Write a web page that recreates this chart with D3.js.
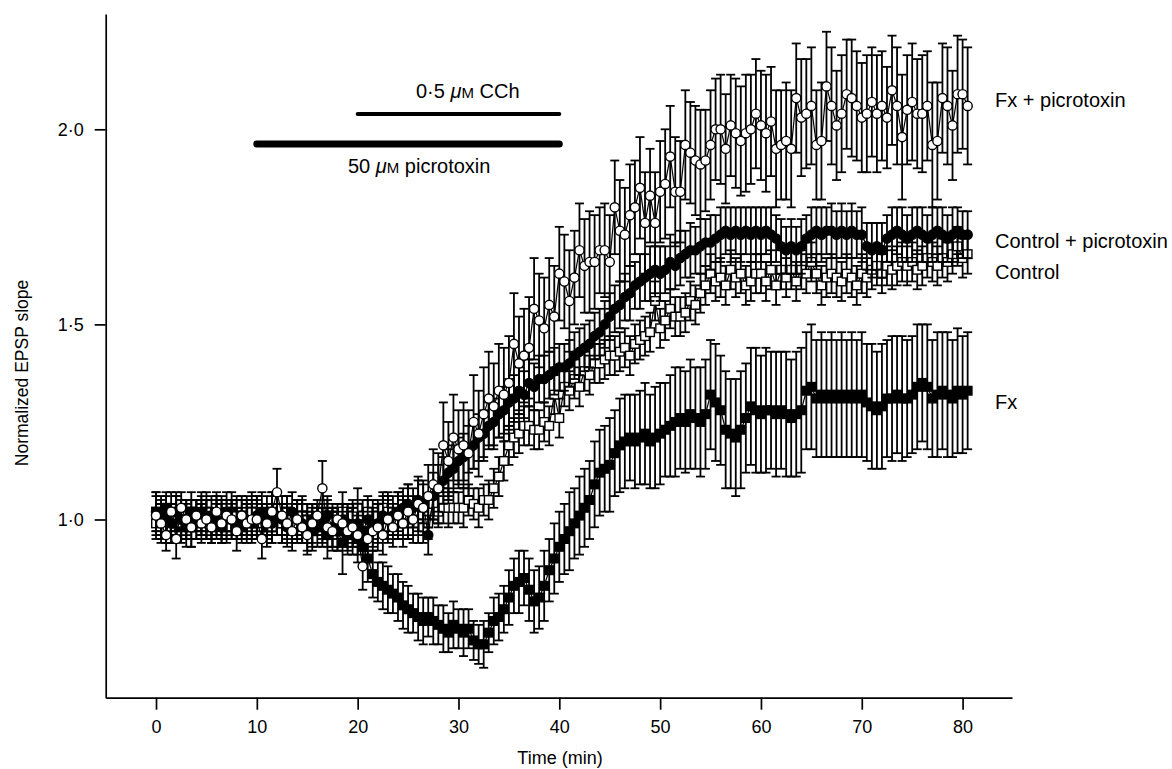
<!DOCTYPE html>
<meta charset="utf-8">
<script src="https://cdn.jsdelivr.net/npm/d3@7"></script>
<style>
  body { margin: 0; background: #fff; }
  text { font-family: "Liberation Sans", Arial, Helvetica, sans-serif; fill: #000; }
</style>
<div id="chart"></div>
<script>

// sampling times (min)
var times = [
  0,0.5,1,1.5,2,2.5,3,3.5,4,4.5,
  5,5.5,6,6.5,7,7.5,8,8.5,9,9.5,
  10,10.5,11,11.5,12,12.5,13,13.5,14,14.5,
  15,15.5,16,16.5,17,17.5,18,18.5,19,19.5,
  20,20.5,21,21.5,22,22.5,23,23.5,24,24.5,
  25,25.5,26,26.5,27,27.5,28,28.5,29,29.5,
  30,30.5,31,31.5,32,32.5,33,33.5,34,34.5,
  35,35.5,36,36.5,37,37.5,38,38.5,39,39.5,
  40,40.5,41,41.5,42,42.5,43,43.5,44,44.5,
  45,45.5,46,46.5,47,47.5,48,48.5,49,49.5,
  50,50.5,51,51.5,52,52.5,53,53.5,54,54.5,
  55,55.5,56,56.5,57,57.5,58,58.5,59,59.5,
  60,60.5,61,61.5,62,62.5,63,63.5,64,64.5,
  65,65.5,66,66.5,67,67.5,68,68.5,69,69.5,
  70,70.5,71,71.5,72,72.5,73,73.5,74,74.5,
  75,75.5,76,76.5,77,77.5,78,78.5,79,79.5,
  80,80.5
];

// Fx (filled squares)
var fx = [
  1.02,1.00,1.03,0.99,1.01,0.98,1.00,1.02,0.99,1.01,
  1.00,0.98,1.01,1.00,0.99,1.02,1.00,0.98,1.01,0.99,
  1.01,1.00,0.98,1.02,1.00,0.99,1.01,0.98,1.00,1.01,
  0.99,0.97,1.00,0.98,0.96,0.98,0.97,0.94,0.96,0.97,
  0.95,0.93,0.90,0.86,0.84,0.83,0.82,0.81,0.80,0.78,
  0.77,0.76,0.75,0.74,0.75,0.74,0.73,0.72,0.71,0.73,
  0.72,0.71,0.72,0.69,0.68,0.68,0.71,0.74,0.75,0.77,
  0.80,0.83,0.84,0.85,0.82,0.79,0.80,0.83,0.87,0.90,
  0.93,0.95,0.97,0.99,1.01,1.03,1.05,1.09,1.12,1.13,
  1.14,1.17,1.19,1.20,1.21,1.20,1.21,1.22,1.20,1.21,
  1.22,1.23,1.24,1.25,1.26,1.25,1.27,1.26,1.25,1.27,
  1.32,1.30,1.28,1.23,1.22,1.21,1.23,1.26,1.29,1.28,
  1.27,1.28,1.28,1.27,1.28,1.27,1.26,1.27,1.28,1.33,
  1.34,1.31,1.32,1.31,1.32,1.31,1.32,1.31,1.32,1.31,
  1.32,1.30,1.29,1.28,1.29,1.31,1.31,1.32,1.31,1.31,
  1.32,1.34,1.35,1.34,1.31,1.32,1.33,1.32,1.31,1.33,
  1.32,1.33
];
var fxErr = [
  .05,.05,.04,.05,.05,.04,.05,.05,.04,.05,
  .05,.04,.05,.05,.04,.05,.05,.04,.05,.05,
  .05,.04,.05,.05,.04,.05,.05,.04,.05,.05,
  .05,.05,.04,.05,.06,.05,.05,.08,.05,.06,
  .06,.05,.06,.06,.05,.06,.06,.05,.06,.06,
  .06,.05,.06,.06,.05,.06,.05,.06,.05,.06,
  .05,.06,.05,.05,.05,.06,.05,.06,.06,.06,
  .07,.07,.08,.07,.08,.08,.08,.09,.08,.09,
  .09,.09,.10,.09,.10,.10,.10,.11,.11,.11,
  .12,.11,.12,.12,.11,.12,.12,.13,.12,.13,
  .13,.12,.13,.14,.13,.13,.14,.13,.14,.14,
  .14,.15,.14,.15,.14,.15,.15,.14,.15,.16,
  .15,.16,.15,.16,.15,.16,.15,.16,.16,.15,
  .16,.15,.16,.15,.16,.15,.16,.15,.16,.15,
  .16,.15,.16,.15,.16,.15,.16,.15,.16,.15,
  .15,.16,.15,.16,.15,.16,.15,.16,.15,.16,
  .15,.15
];

// Control (open squares)
var control = [
  0.99,1.01,0.98,1.00,1.02,0.99,1.00,0.98,1.01,1.00,
  1.02,0.99,1.00,1.01,0.98,1.00,1.01,0.99,1.00,1.02,
  0.99,1.00,1.01,0.98,1.00,0.99,1.02,1.00,0.99,1.01,
  1.00,0.98,1.00,0.99,1.01,1.00,0.99,1.02,1.00,1.01,
  1.03,1.01,1.02,1.00,1.01,1.03,1.02,1.00,0.99,1.01,
  0.99,1.00,0.99,0.98,0.99,1.04,1.02,1.03,1.03,1.03,
  1.03,1.03,1.05,1.04,1.03,1.05,1.05,1.08,1.11,1.15,
  1.19,1.21,1.22,1.24,1.24,1.23,1.23,1.25,1.24,1.32,
  1.26,1.34,1.33,1.36,1.34,1.38,1.37,1.40,1.40,1.41,
  1.42,1.42,1.43,1.44,1.42,1.45,1.46,1.47,1.48,1.56,
  1.49,1.51,1.54,1.52,1.52,1.53,1.56,1.55,1.58,1.60,
  1.63,1.61,1.62,1.60,1.64,1.62,1.63,1.60,1.61,1.63,
  1.63,1.61,1.64,1.60,1.64,1.62,1.64,1.61,1.64,1.63,
  1.66,1.63,1.60,1.62,1.63,1.62,1.61,1.63,1.62,1.60,
  1.63,1.62,1.64,1.65,1.63,1.65,1.64,1.65,1.66,1.65,
  1.66,1.64,1.65,1.67,1.66,1.65,1.67,1.66,1.68,1.70,
  1.67,1.68
];
var controlErr = [
  .04,.05,.04,.04,.05,.04,.04,.05,.04,.04,
  .05,.04,.04,.05,.04,.04,.05,.04,.04,.05,
  .04,.04,.05,.04,.04,.05,.04,.04,.05,.04,
  .04,.05,.04,.04,.05,.04,.04,.05,.04,.04,
  .05,.04,.04,.05,.04,.04,.05,.04,.04,.05,
  .04,.04,.05,.04,.04,.05,.04,.04,.05,.04,
  .04,.05,.04,.04,.05,.04,.05,.05,.05,.05,
  .05,.05,.05,.05,.05,.05,.05,.05,.05,.05,
  .05,.05,.05,.05,.05,.05,.05,.05,.05,.05,
  .05,.05,.05,.05,.05,.05,.05,.05,.05,.05,
  .05,.05,.05,.05,.05,.05,.05,.05,.05,.05,
  .05,.05,.05,.05,.05,.05,.05,.05,.05,.05,
  .05,.05,.05,.05,.05,.05,.05,.05,.05,.05,
  .05,.05,.05,.05,.05,.05,.05,.05,.05,.05,
  .05,.05,.05,.05,.05,.05,.05,.05,.05,.05,
  .05,.05,.05,.05,.05,.05,.05,.05,.05,.05,
  .05,.05
];

// Control + picrotoxin (filled circles)
var ctlPicro = [
  1.02,1.00,1.01,0.99,1.02,1.00,0.98,1.01,1.00,1.02,
  0.99,1.01,1.00,0.98,1.02,1.00,0.99,1.01,1.00,0.99,
  1.01,1.02,1.00,0.99,1.01,1.00,0.98,1.02,1.00,0.99,
  0.97,1.00,0.98,0.99,1.01,0.98,0.97,1.00,0.99,0.98,
  0.99,0.97,1.00,0.98,0.99,1.01,1.00,1.01,1.02,1.03,
  1.04,1.03,1.05,1.04,0.96,1.06,1.08,1.10,1.12,1.13,
  1.15,1.16,1.18,1.19,1.21,1.22,1.24,1.25,1.27,1.28,
  1.30,1.31,1.33,1.32,1.35,1.34,1.36,1.36,1.37,1.38,
  1.39,1.39,1.40,1.42,1.43,1.44,1.45,1.47,1.48,1.50,
  1.52,1.54,1.55,1.57,1.58,1.60,1.61,1.62,1.63,1.64,
  1.63,1.64,1.66,1.65,1.67,1.68,1.69,1.69,1.70,1.71,
  1.71,1.72,1.73,1.74,1.73,1.74,1.73,1.74,1.73,1.74,
  1.73,1.74,1.73,1.72,1.70,1.69,1.70,1.69,1.70,1.72,
  1.73,1.74,1.73,1.74,1.74,1.73,1.74,1.73,1.74,1.73,
  1.73,1.70,1.69,1.70,1.69,1.72,1.73,1.74,1.73,1.72,
  1.73,1.74,1.73,1.72,1.73,1.74,1.73,1.72,1.73,1.74,
  1.73,1.73
];
var ctlPicroErr = [
  .05,.04,.05,.05,.04,.05,.05,.04,.05,.05,
  .04,.05,.05,.04,.05,.05,.04,.05,.05,.04,
  .05,.05,.04,.05,.05,.04,.05,.05,.04,.05,
  .05,.04,.05,.05,.04,.05,.05,.04,.05,.05,
  .05,.05,.05,.05,.05,.05,.05,.05,.05,.05,
  .05,.05,.05,.05,.05,.06,.06,.06,.06,.06,
  .06,.06,.06,.06,.06,.06,.06,.06,.06,.06,
  .06,.06,.06,.06,.06,.06,.06,.06,.06,.06,
  .06,.06,.06,.06,.06,.06,.06,.06,.06,.06,
  .06,.06,.06,.06,.07,.06,.07,.06,.07,.06,
  .07,.06,.07,.06,.07,.06,.07,.06,.07,.06,
  .07,.06,.07,.06,.07,.06,.07,.06,.07,.06,
  .07,.06,.07,.06,.07,.06,.07,.06,.07,.06,
  .07,.06,.07,.06,.07,.06,.07,.06,.07,.06,
  .07,.06,.07,.06,.07,.06,.07,.06,.07,.06,
  .07,.06,.07,.06,.07,.06,.07,.06,.07,.06,
  .06,.06
];

// Fx + picrotoxin (open circles)
var fxPicro = [
  1.01,0.99,0.96,1.02,0.95,1.03,1.00,0.98,1.01,0.99,
  1.00,0.98,1.02,0.99,1.01,1.00,0.97,1.01,0.99,1.00,
  1.00,0.95,0.99,1.02,1.07,1.01,0.99,0.97,1.00,0.98,
  0.96,0.99,1.01,1.08,0.98,0.97,1.00,0.99,0.97,0.98,
  0.96,0.88,0.95,0.97,0.98,0.96,1.00,0.98,1.01,0.99,
  1.02,1.00,1.04,1.03,1.06,1.09,1.08,1.19,1.15,1.21,
  1.18,1.19,1.17,1.25,1.22,1.27,1.31,1.29,1.33,1.32,
  1.35,1.45,1.40,1.42,1.44,1.54,1.51,1.49,1.55,1.52,
  1.63,1.61,1.56,1.62,1.69,1.65,1.66,1.66,1.69,1.69,
  1.66,1.80,1.74,1.73,1.78,1.80,1.85,1.76,1.83,1.76,
  1.84,1.86,1.93,1.84,1.84,1.96,1.94,1.92,1.91,1.92,
  1.96,2.00,2.00,1.95,2.01,1.99,1.97,1.99,2.00,2.04,
  2.01,1.99,2.02,1.95,1.96,1.97,1.95,2.08,2.03,2.04,
  2.06,1.96,1.97,2.11,2.06,2.01,2.04,2.09,2.08,2.06,
  2.03,2.04,2.07,2.04,2.06,2.03,2.10,2.06,1.98,2.05,
  2.07,2.04,2.04,2.06,1.96,1.97,2.08,2.06,2.01,2.09,
  2.09,2.06
];
var fxPicroErr = [
  .05,.05,.04,.05,.05,.04,.05,.05,.04,.05,
  .05,.04,.05,.05,.04,.05,.05,.04,.05,.05,
  .05,.05,.04,.05,.06,.05,.04,.05,.05,.04,
  .05,.05,.04,.07,.05,.05,.04,.05,.05,.05,
  .05,.06,.05,.05,.06,.05,.06,.05,.06,.06,
  .07,.06,.07,.07,.08,.09,.09,.11,.10,.11,
  .10,.11,.11,.12,.11,.12,.12,.11,.12,.12,
  .12,.13,.12,.12,.13,.13,.12,.13,.12,.13,
  .12,.12,.13,.12,.12,.12,.13,.12,.11,.12,
  .12,.12,.13,.12,.13,.12,.13,.13,.12,.13,
  .13,.14,.13,.14,.13,.14,.13,.14,.14,.13,
  .14,.13,.14,.14,.13,.14,.14,.15,.14,.14,
  .14,.15,.14,.15,.14,.15,.15,.14,.15,.14,
  .15,.14,.15,.14,.15,.14,.15,.14,.15,.14,
  .14,.15,.14,.15,.14,.13,.14,.15,.16,.14,
  .15,.14,.15,.14,.16,.15,.14,.15,.14,.15,
  .14,.15
];

var xTicks = [0, 10, 20, 30, 40, 50, 60, 70, 80];
var yTicks = [1.0, 1.5, 2.0];

// drug application periods (min)
var cchPeriod = [20, 40];
var picroPeriod = [10, 40];


var width = 1172, height = 769;

var svg = d3.select("#chart")
  .append("svg")
    .attr("width", width)
    .attr("height", height);

var x = d3.scaleLinear()
  .domain([-4.99, 84.9])
  .range([105.7, 1012]);

var y = d3.scaleLinear()
  .domain([0.5433, 2.2955])
  .range([697.7, 14]);

// axes
var gx = svg.append("g")
  .attr("transform", "translate(0,697.7)")
  .call(d3.axisBottom(x).tickValues(xTicks).tickSize(12).tickPadding(11).tickSizeOuter(0));

var gy = svg.append("g")
  .attr("transform", "translate(105.7,0)")
  .call(d3.axisLeft(y).tickValues(yTicks).tickSize(11).tickPadding(11).tickSizeOuter(0)
    .tickFormat(function(d) { return d.toFixed(1).replace(".", "\u00B7"); }));

[gx, gy].forEach(function(g) {
  g.attr("font-family", null).attr("font-size", 18);
  g.selectAll("path, line").attr("stroke", "#000").attr("stroke-width", 1.7);
});

svg.append("text")
  .attr("x", 560).attr("y", 764)
  .attr("text-anchor", "middle")
  .attr("font-size", 18)
  .text("Time (min)");

svg.append("text")
  .attr("transform", "translate(28,373) rotate(-90)")
  .attr("text-anchor", "middle")
  .attr("font-size", 17.5)
  .text("Normalized EPSP slope");

// drug bars
svg.append("line")
  .attr("x1", x(cchPeriod[0])).attr("x2", x(cchPeriod[1]))
  .attr("y1", 114).attr("y2", 114)
  .attr("stroke", "#000").attr("stroke-width", 4).attr("stroke-linecap", "round");

svg.append("line")
  .attr("x1", x(picroPeriod[0])).attr("x2", x(picroPeriod[1]))
  .attr("y1", 144).attr("y2", 144)
  .attr("stroke", "#000").attr("stroke-width", 7).attr("stroke-linecap", "round");

function drugLabel(px, py, before, after) {
  var t = svg.append("text").attr("x", px).attr("y", py).attr("font-size", 20);
  t.append("tspan").text(before);
  t.append("tspan").attr("font-style", "italic").text("\u03BC");
  t.append("tspan").attr("font-size", 15).text("M");
  t.append("tspan").text(after);
}
drugLabel(416, 98, "0\u00B75 ", " CCh");
drugLabel(348, 173, "50 ", " picrotoxin");

// data series
var series = [
  {name: "Fx", values: fx, err: fxErr, shape: "square", fill: "#000", labelAt: 1.282},
  {name: "Control", values: control, err: controlErr, shape: "square", fill: "#fff", labelAt: 1.617},
  {name: "Control + picrotoxin", values: ctlPicro, err: ctlPicroErr, shape: "circle", fill: "#000", labelAt: 1.696},
  {name: "Fx + picrotoxin", values: fxPicro, err: fxPicroErr, shape: "circle", fill: "#fff", labelAt: 2.057}
];

var line = d3.line()
  .x(function(d) { return x(d.t); })
  .y(function(d) { return y(d.v); });

series.forEach(function(s) {
  var pts = times.map(function(t, i) { return {t: t, v: s.values[i], e: s.err[i]}; });
  var g = svg.append("g");

  var eb = g.selectAll(".eb").data(pts).enter().append("g")
    .attr("stroke", "#000").attr("stroke-width", 1.8);
  eb.append("line")
    .attr("x1", function(d) { return x(d.t); })
    .attr("x2", function(d) { return x(d.t); })
    .attr("y1", function(d) { return y(d.v - d.e); })
    .attr("y2", function(d) { return y(d.v + d.e); });
  eb.append("line")
    .attr("x1", function(d) { return x(d.t) - 4.5; })
    .attr("x2", function(d) { return x(d.t) + 4.5; })
    .attr("y1", function(d) { return y(d.v + d.e); })
    .attr("y2", function(d) { return y(d.v + d.e); });
  eb.append("line")
    .attr("x1", function(d) { return x(d.t) - 4.5; })
    .attr("x2", function(d) { return x(d.t) + 4.5; })
    .attr("y1", function(d) { return y(d.v - d.e); })
    .attr("y2", function(d) { return y(d.v - d.e); });

  g.append("path")
    .datum(pts)
    .attr("fill", "none")
    .attr("stroke", "#000")
    .attr("stroke-width", 1.2)
    .attr("d", line);

  if (s.shape === "circle") {
    g.selectAll("circle").data(pts).enter().append("circle")
      .attr("cx", function(d) { return x(d.t); })
      .attr("cy", function(d) { return y(d.v); })
      .attr("r", 4.6)
      .attr("fill", s.fill)
      .attr("stroke", "#000").attr("stroke-width", 1.4);
  } else {
    g.selectAll("rect").data(pts).enter().append("rect")
      .attr("x", function(d) { return x(d.t) - 4.3; })
      .attr("y", function(d) { return y(d.v) - 4.3; })
      .attr("width", 8.6).attr("height", 8.6)
      .attr("fill", s.fill)
      .attr("stroke", "#000").attr("stroke-width", 1.4);
  }

  svg.append("text")
    .attr("x", 995)
    .attr("y", y(s.labelAt))
    .attr("font-size", 20)
    .text(s.name);
});

</script>
